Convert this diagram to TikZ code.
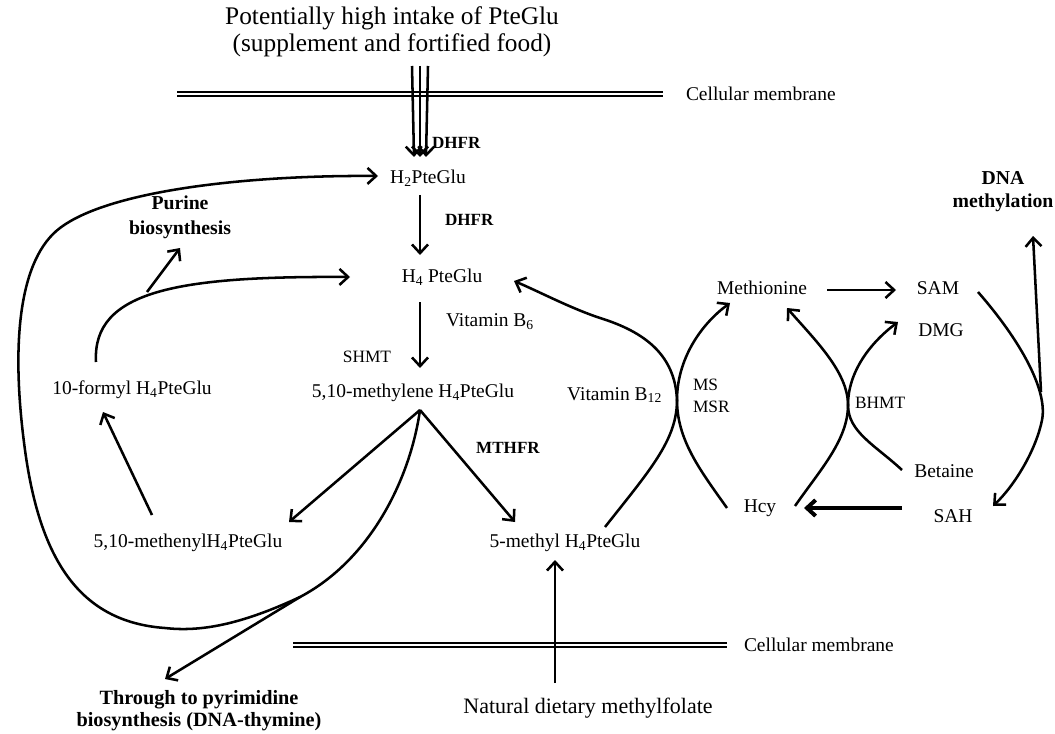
\documentclass[tikz,border=0pt]{standalone}
\usepackage{fontspec}
\setmainfont{Liberation Serif}
\usetikzlibrary{arrows.meta}
\begin{document}
\begin{tikzpicture}[x=0.75pt,y=-0.75pt,
  every node/.style={inner sep=0pt, outer sep=0pt},
  txt/.style={font=\fontsize{14.6}{17}\selectfont},
  sml/.style={font=\fontsize{13}{17}\selectfont, align=left},
  bld/.style={font=\bfseries\fontsize{14.8}{18}\selectfont, align=center},
  enz/.style={font=\bfseries\fontsize{12.8}{15}\selectfont},
  ttl/.style={font=\fontsize{19}{20}\selectfont},
  ln/.style={line width=1.9pt},
  arr/.style={ln, -{Straight Barb[length=6.5pt,width=12pt]}},
  memb/.style={double, line width=1.9pt, double distance=0.9pt}
]
\useasboundingbox (0,0) rectangle (1055,734);

% texts
\node[ttl] (t1) at (392,18) {Potentially high intake of PteGlu};
\node[ttl] (t2) at (392,45) {(supplement and fortified food)};
\node[txt, anchor=west] (mem1) at (686,94) {Cellular membrane};
\node[enz, anchor=west] (dhfr1) at (432,143) {DHFR};
\node[txt] (h2) at (428,178) {H\textsubscript{2}PteGlu};
\node[enz, anchor=west] (dhfr2) at (445,220) {DHFR};
\node[txt] (h4) at (442,277) {H\textsubscript{4} PteGlu};
\node[txt, anchor=west] (vb6) at (446,322) {Vitamin B\textsubscript{6}};
\node[sml] (shmt) at (367,357) {SHMT};
\node[txt] (mthy) at (413,393) {5,10-methylene H\textsubscript{4}PteGlu};
\node[txt] (form) at (132,390) {10-formyl H\textsubscript{4}PteGlu};
\node[bld, font=\bfseries\fontsize{14.8}{18.8}\selectfont] (purine) at (180,217) {Purine\\biosynthesis};
\node[txt, anchor=east] (vb12) at (662,395) {Vitamin B\textsubscript{12}};
\node[sml, anchor=west] (ms) at (693,396) {MS\\MSR};
\node[enz] (mthfr) at (508,448) {MTHFR};
\node[txt] (menyl) at (188,543) {5,10-methenylH\textsubscript{4}PteGlu};
\node[txt] (methyl) at (565,543) {5-methyl H\textsubscript{4}PteGlu};
\node[txt] (meth) at (762,288) {Methionine};
\node[txt] (sam) at (938,288) {SAM};
\node[txt] (dmg) at (941,330) {DMG};
\node[sml, anchor=west] (bhmt) at (855,403) {BHMT};
\node[txt] (betaine) at (944,471) {Betaine};
\node[txt] (hcy) at (760,508) {Hcy};
\node[txt] (sah) at (953,516) {SAH};
\node[bld, font=\bfseries\fontsize{14.8}{17.3}\selectfont] (dna) at (1003,192) {DNA\\methylation};
\node[txt, anchor=west] (mem2) at (744,645) {Cellular membrane};
\node[bld, font=\bfseries\fontsize{15.2}{16.5}\selectfont] (pyr) at (199,711) {Through to pyrimidine\\biosynthesis (DNA-thymine)};
\node[txt, font=\fontsize{16.5}{19}\selectfont] (nat) at (588,708) {Natural dietary methylfolate};

% membranes
\draw[memb] (177,94) -- (mem1.west -| 663,0);
\draw[memb] (293,645) -- (mem2.west -| 727,0);

% triple arrow
\coordinate (tA) at (412,66); \coordinate (tB) at (420,66); \coordinate (tC) at (428,66);
\coordinate (hA) at (414,157); \coordinate (hB) at (420,157); \coordinate (hC) at (426,157);
\draw[arr] (tA) -- (hA);
\draw[arr] (tB) -- (hB);
\draw[arr] (tC) -- (hC);

% main chain
\draw[arr] (420,195) -- (420,255);
\draw[arr] (420,302) -- (420,368);
\coordinate (apex) at (420,410);
\draw[arr] (apex) -- (289,522);
\draw[arr] (apex) -- (515,522);
\draw[arr] (152,515) -- (103,412);
\draw[arr] (555,683) -- (555,560);

% purine
\draw[arr] (96,362) .. controls (92,290) and (180,276) .. (350,277);
\draw[arr] (147,292) -- (180,248);

% loop back to H2PteGlu
\coordinate (split) at (300,597);
\draw[arr] (apex) .. controls (410,480) and (370,560) .. (split)
  .. controls (240,625) and (200,632) .. (165,628)
  .. controls (80,622) and (40,560) .. (25,450)
  .. controls (10,340) and (20,258) .. (60,228)
  .. controls (110,190) and (250,175) .. (378,176);
\draw[arr] (split) -- (165,679);

% MS crossing
\draw[arr] (605,527) .. controls (650,470) and (677,440) .. (677,400)
  .. controls (677,360) and (700,325) .. (730,303);
\draw[arr] (727,508) .. controls (700,470) and (677,440) .. (677,400)
  .. controls (675,355) and (645,332) .. (600,318)
  .. controls (570,308) and (540,292) .. (514,281);

% BHMT crossing
\draw[arr] (902,470) .. controls (875,445) and (848,432) .. (848,405)
  .. controls (848,372) and (815,340) .. (787,308);
\draw[arr] (795,506) .. controls (820,470) and (848,440) .. (848,405)
  .. controls (848,372) and (870,343) .. (898,322);

% methionine cycle
\draw[arr] (827,290) -- (896,290);
\draw[arr] (978,292) .. controls (1020,340) and (1048,390) .. (1042,420)
  .. controls (1036,450) and (1015,485) .. (993,506);
\draw[arr] (1041,392) -- (1033,236);
\draw[arr, line width=3pt] (902,508) -- (804,508);
\end{tikzpicture}
\end{document}
